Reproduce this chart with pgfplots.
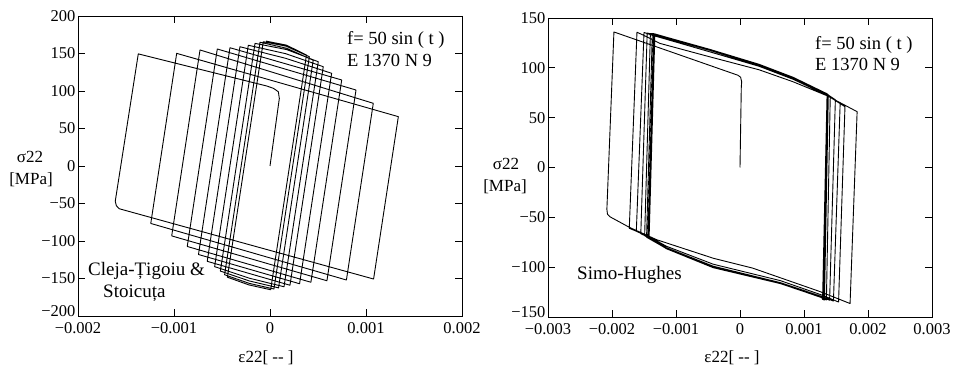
\documentclass[border=0pt]{standalone}
\usepackage{fontspec}
\setmainfont{Liberation Serif}
\usepackage{pgfplots}
\pgfplotsset{compat=1.18}
\begin{document}
\begin{tikzpicture}[x=1pt,y=1pt]
\useasboundingbox (0,0) rectangle (954,369);
\pgfplotsset{
  panel/.style={scale only axis, anchor=south west, width=384pt,
    tick align=inside, major tick length=7pt,
    axis line style={line width=0.9pt},
    every tick/.style={black,line width=0.8pt},
    ticklabel style={font=\fontsize{16.5}{17}\selectfont},
    yticklabel style={xshift=1pt},
    xticklabel style={yshift=-2.5pt},
    scaled x ticks=false, scaled y ticks=false},
  loop/.style={black, line width=0.9pt, line join=round, mark=none},
}
% ---------------- left panel ----------------
\begin{axis}[panel, at={(78pt,53pt)}, height=300pt,
  xmin=-0.002, xmax=0.002, ymin=-200, ymax=200,
  xtick={-0.002,-0.001,0,0.001,0.002},
  xticklabels={−0.002,−0.001,0,0.001,0.002},
  ytick={-150,-100,-50,0,50,100,150,200},
  yticklabels={−150,−100,−50,0,50,100,150,200},
  extra y ticks={-200}, extra y tick labels={−200},
  extra y tick style={yticklabel style={yshift=5pt}}]
\addplot[loop] coordinates {
(0,0) (0.0000972,90) (0.000087,99) (0.000035,103.6) (-0.000035,106.7)
(-0.001372,149.5) (-0.001612,-47) (-0.0016,-53) (-0.00157,-57)
(0.001079,-150.7) (0.001337,65.8)
(-0.000972,150.2) (-0.001242,-76.6) (0.000796,-152) (0.001076,83.6)
(-0.000729,154.7) (-0.001024,-93.2) (0.000593,-153) (0.000896,101.3)
(-0.000549,156) (-0.000862,-107.3) (0.000426,-155) (0.000747,114.7)
(-0.000417,157.7) (-0.000745,-118) (0.000308,-157) (0.000642,123.6) (0.000165,143.5)
(-0.000313,159) (-0.000654,-127.1) (0.000208,-159) (0.000555,132.4) (0.000165,149.7)
(-0.000226,161) (-0.000577,-134.2) (-0.000215,-149.6) (0.000146,-161) (0.000503,139) (0.000174,155.2)
(-0.000156,163.5) (-0.000517,-140.1) (-0.000214,-153.3) (0.000089,-162.5) (0.00045,141) (0.000173,157)
(-0.000104,165) (-0.000473,-145) (-0.000216,-156.5) (0.000041,-164) (0.00041,145.7) (0.00017,159.7)
(-0.00007,165.7) (-0.000444,-148.3) (-0.000219,-158.6) (0.000007,-165) (0.00038,148) (0.00017,161.2)
(-0.00004,166.5)
};
\end{axis}
% ---------------- right panel ----------------
\begin{axis}[panel, at={(548pt,52pt)}, height=299pt,
  xmin=-0.003, xmax=0.003, ymin=-150, ymax=150,
  xtick={-0.003,-0.002,-0.001,0,0.001,0.002,0.003},
  xticklabels={−0.003,−0.002,−0.001,0,0.001,0.002,0.003},
  ytick={-100,-50,0,50,100,150},
  yticklabels={−100,−50,0,50,100,150},
  extra y ticks={-150}, extra y tick labels={−150},
  extra y tick style={yticklabel style={yshift=5pt}}]
\addplot[loop] coordinates {
(0,0) (0.00002,80) (0.000026,86) (0.00001,90.5) (-0.00003,92.5)
(-0.00197,136) (-0.00208,-42) (-0.00207,-47) (-0.00203,-49.5)
(-0.00173,-60) (-0.0013,-72.5) (-0.00042,-91) (0.0002,-101) (0.00125,-124.5) (0.00172,-136.5)
(0.00183,56) (0.00136,72) (0.00083,86) (0.0003,98) (-0.00047,111) (-0.00125,124.5) (-0.0015,132.5)
(-0.00161,135.7) (-0.00173,-61)
(-0.00143,-69) (-0.00115,-79) (-0.00042,-97) (0.00063,-113.5) (0.00128,-128) (0.00154,-135)
(0.00164,61) (0.00136,72.5) (0.00083,88.5) (0.0003,101.5) (-0.00047,116) (-0.00136,132.5)
(-0.0015,135.5) (-0.00162,-64)
(-0.00143,-69.5) (-0.00115,-80.5) (-0.00042,-99) (0.00063,-115.5) (0.00128,-129.5) (0.00146,-134)
(0.001565,64.5) (0.00136,73.2) (0.00083,89.5) (0.0003,102.5) (-0.00047,117.5) (-0.00136,133.5)
(-0.00145,135) (-0.00155,-66.5)
(-0.00143,-70) (-0.00115,-81) (-0.00042,-100) (0.00063,-116) (0.00128,-130) (0.0014,-133.2)
(0.00149,68) (0.00136,73.5) (0.00083,90) (0.0003,103) (-0.00047,118) (-0.00136,134)
(-0.0014,134.5) (-0.00149,-68.5)
(-0.00143,-70.5) (-0.00115,-81.5) (-0.00042,-100.5) (0.00063,-116.5) (0.00128,-130.5) (0.00135,-133)
(0.00141,71) (0.00136,74) (0.00083,90.5) (0.0003,103.5) (-0.00047,118.5) (-0.00136,134.5)
(-0.00137,134.3) (-0.00146,-70)
(-0.00115,-81.3) (-0.00042,-100.3) (0.00063,-116.3) (0.00128,-130.7) (0.00132,-133)
(0.00138,72.8) (0.00083,89.6) (0.0003,102.6) (-0.00047,117.6)
(-0.00135,133.8) (-0.00144,-70.6)
(-0.00115,-80.7) (-0.00042,-99.7) (0.00063,-115.7) (0.00128,-130.3) (0.0013,-132.6)
(0.00137,73.4) (0.00083,90.3) (0.0003,103.3) (-0.00047,118.3)
(-0.00134,134.2) (-0.00143,-70.2)
(-0.00115,-81.1) (-0.00042,-100.1) (0.00063,-116.1) (0.00128,-130.1) (0.00131,-132.9)
(0.00136,73.8) (0.00083,90) (0.0003,103) (-0.00047,118)
(-0.00133,134) (-0.00142,-70.4)
(-0.00115,-81) (-0.00042,-100) (0.00063,-116) (0.00128,-130.2) (0.00129,-132.4)
(0.00136,73.2) (0.00083,89.8) (0.0003,102.8) (-0.00047,117.9) (-0.00134,134)
};
\end{axis}
% ---------------- texts ----------------
\begin{scope}[every node/.style={inner sep=0pt}]
\node[anchor=west, font=\fontsize{18.5}{19}\selectfont] at (347,329) {f= 50 sin ( t )};
\node[anchor=west, font=\fontsize{18.5}{19}\selectfont] at (347,309) {E 1370 N 9};
\node[anchor=west, font=\fontsize{19}{20}\selectfont] at (88,98) {Cleja-Țigoiu \&};
\node[anchor=west, font=\fontsize{19}{20}\selectfont] at (103,76) {Stoicuța};
\node[font=\fontsize{17}{18}\selectfont] at (30,212) {σ22};
\node[font=\fontsize{17}{18}\selectfont] at (31,189) {[MPa]};
\node[font=\fontsize{17}{18}\selectfont] at (266,11) {ε22[ -{}- ]};
\node[anchor=west, font=\fontsize{18.5}{19}\selectfont] at (815,324) {f= 50 sin ( t )};
\node[anchor=west, font=\fontsize{18.5}{19}\selectfont] at (815,305) {E 1370 N 9};
\node[anchor=west, font=\fontsize{19}{20}\selectfont] at (577,94) {Simo-Hughes};
\node[font=\fontsize{17}{18}\selectfont] at (506,205) {σ22};
\node[font=\fontsize{17}{18}\selectfont] at (505,182) {[MPa]};
\node[font=\fontsize{17}{18}\selectfont] at (732,11) {ε22[ -{}- ]};
\end{scope}
\end{tikzpicture}
\end{document}
